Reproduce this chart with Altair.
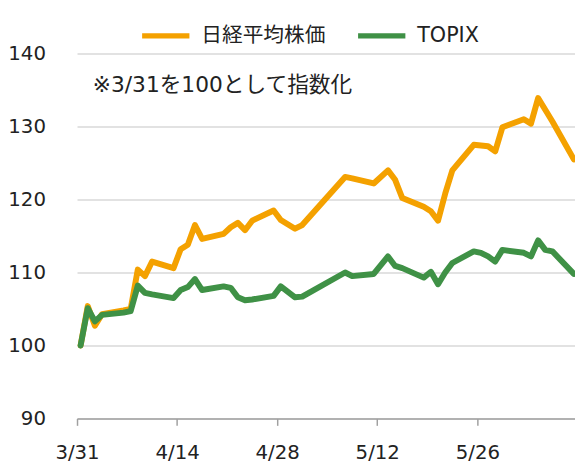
import altair as alt
import pandas as pd

FONT = "DejaVu Sans, Noto Sans CJK JP"

dates = [
    "2020-03-31", "2020-04-01", "2020-04-02", "2020-04-03", "2020-04-06",
    "2020-04-07", "2020-04-08", "2020-04-09", "2020-04-10", "2020-04-13",
    "2020-04-14", "2020-04-15", "2020-04-16", "2020-04-17", "2020-04-20",
    "2020-04-21", "2020-04-22", "2020-04-23", "2020-04-24", "2020-04-27",
    "2020-04-28", "2020-04-30", "2020-05-01", "2020-05-07", "2020-05-08",
    "2020-05-11", "2020-05-13", "2020-05-14", "2020-05-15", "2020-05-18",
    "2020-05-19", "2020-05-20", "2020-05-21", "2020-05-22", "2020-05-25",
    "2020-05-26", "2020-05-27", "2020-05-28", "2020-05-29", "2020-06-01",
    "2020-06-02", "2020-06-03", "2020-06-04", "2020-06-05", "2020-06-08",
]
nikkei = [
    100.0, 105.4, 102.7, 104.3, 104.8,
    105.0, 110.4, 109.5, 111.5, 110.6,
    113.2, 113.8, 116.5, 114.6, 115.3,
    116.2, 116.8, 115.8, 117.1, 118.5,
    117.2, 116.0, 116.5, 123.1, 122.9,
    122.2, 124.0, 122.7, 120.2, 119.0,
    118.4, 117.1, 120.8, 124.0, 127.5,
    127.4, 127.3, 126.6, 129.9, 131.0,
    130.4, 133.9, 132.3, 130.7, 125.5,
]
topix = [
    100.0, 105.1, 103.3, 104.2, 104.5,
    104.7, 108.2, 107.2, 107.0, 106.5,
    107.6, 108.0, 109.1, 107.6, 108.1,
    107.9, 106.6, 106.2, 106.3, 106.8,
    108.1, 106.6, 106.7, 110.0, 109.5,
    109.8, 112.2, 110.9, 110.6, 109.3,
    110.1, 108.4, 110.0, 111.3, 112.9,
    112.7, 112.2, 111.5, 113.1, 112.7,
    112.2, 114.4, 113.1, 112.9, 109.8,
]
series_names = ["日経平均株価", "TOPIX"]
colors = ["#F4A100", "#3F9146"]
x_tick_dates = [(3, 31), (4, 14), (4, 28), (5, 12), (5, 26)]
y_ticks = [90, 100, 110, 120, 130, 140]
note = "※3/31を100として指数化"

rows = []
for d, n, t in zip(dates, nikkei, topix):
    rows.append({"date": d, "series": series_names[0], "value": n})
    rows.append({"date": d, "series": series_names[1], "value": t})
df = pd.DataFrame(rows)

x_enc = alt.X(
    "date:T",
    timeUnit="utcyearmonthdate",
    bandPosition=0.5,
    title=None,
    scale=alt.Scale(domain=[
        alt.DateTime(year=2020, month=3, date=31, utc=True),
        alt.DateTime(year=2020, month=6, date=8, hours=15, minutes=50, utc=True),
    ]),
    axis=alt.Axis(
        values=[alt.DateTime(year=2020, month=m, date=d, utc=True) for m, d in x_tick_dates],
        labelExpr="utcFormat(datum.value, '%-m/%-d')",
        grid=False, domain=True, domainColor="#A0A0A0", domainWidth=1.5,
        ticks=True, tickSize=7, tickColor="#A0A0A0", tickWidth=1.5,
        labelFontSize=20, labelFont=FONT, labelColor="#222222", labelPadding=18,
        labelFlush=False,
    ),
)
y_enc = alt.Y(
    "value:Q",
    title=None,
    scale=alt.Scale(domain=[90, 140], nice=False, zero=False),
    axis=alt.Axis(
        values=y_ticks, domain=False, ticks=False, tickSize=0, labelPadding=32,
        grid=True, gridColor="#D9D9D9", gridWidth=1.5,
        labelFontSize=20, labelFont=FONT, labelColor="#222222",
    ),
)
color_enc = alt.Color(
    "series:N",
    scale=alt.Scale(domain=series_names, range=colors),
    legend=alt.Legend(
        title=None, orient="none", legendX=63, legendY=-45, direction="horizontal",
        symbolType="stroke", symbolStrokeWidth=5.5, symbolSize=2300,
        labelFontSize=21, labelFont=FONT, labelColor="#222222", labelOffset=9,
        columnPadding=22, padding=0,
    ),
)

base = alt.Chart(df)
line_n = base.transform_filter(alt.datum.series == series_names[0]).mark_line(
    strokeWidth=6, strokeJoin="round", strokeCap="round"
).encode(x=x_enc, y=y_enc, color=color_enc)
line_t = base.transform_filter(alt.datum.series == series_names[1]).mark_line(
    strokeWidth=6, strokeJoin="round", strokeCap="round"
).encode(x=x_enc, y=y_enc, color=color_enc)

text = alt.Chart(pd.DataFrame({"note": [note]})).mark_text(
    align="left", baseline="middle", fontSize=22, font=FONT, color="#222222"
).encode(x=alt.value(16), y=alt.value(32), text="note:N")

chart = alt.layer(line_n, line_t, text).properties(
    width=505, height=370,
    padding={"left": 70, "top": 43, "right": 0, "bottom": 46},
    autosize=alt.AutoSizeParams(type="none"),
).configure_view(stroke=None)

chart.save("out.html", embed_options={"renderer": "svg", "actions": False})
